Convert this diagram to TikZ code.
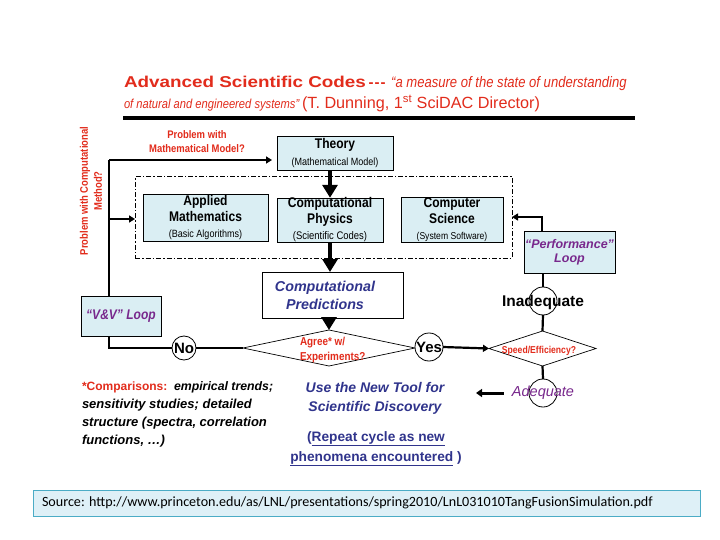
\documentclass[tikz,border=0pt]{standalone}
\usepackage{fontspec}
\setmainfont{Liberation Sans}
\newfontfamily\condf[FakeStretch=0.86]{Liberation Sans}
\newfontfamily\widef[FakeStretch=1.2]{Liberation Sans}
\newfontfamily\srcf{Carlito}
\usetikzlibrary{shapes.geometric,arrows.meta}
\definecolor{tred}{RGB}{226,44,28}
\definecolor{tblue}{RGB}{48,52,140}
\definecolor{tpurple}{RGB}{120,40,140}
\definecolor{lfill}{RGB}{218,238,243}
\definecolor{srcfill}{RGB}{222,240,247}
\definecolor{srcedge}{RGB}{75,172,198}
\newcommand{\myfs}[2]{\fontsize{#1}{#2}\selectfont}
\begin{document}
\begin{tikzpicture}[x=1pt,y=-1pt,
  every node/.style={inner sep=0pt,outer sep=0pt},
  lbox/.style={fill=lfill,draw=black,line width=0.5pt},
  conn/.style={line width=2.2pt},
  sarrow/.style={line width=2.2pt,-{Triangle[length=6pt,width=7pt]}},
  barrow/.style={line width=4pt,-{Triangle[length=13pt,width=15pt]}},
  ring/.style={circle,draw=black,line width=0.8pt,fill=white,minimum size=#1},
  boxtext/.style={align=center,font=\condf\bfseries\myfs{14}{16}},
  redlab/.style={text=tred,font=\condf\bfseries\myfs{11}{14}},
]
\useasboundingbox (0,0) rectangle (720,540);
\fill[white] (0,0) rectangle (720,540);

% title
\node[anchor=base west,text=tred] (title1) at (124,88)
  {{\widef\bfseries\myfs{15.7}{20}Advanced Scientific Codes}\ {\bfseries\myfs{15}{16}-\kern1pt-\kern1pt-}\ \ {\condf\itshape\myfs{15.2}{16}“a measure of the state of understanding}};
\node[anchor=base west,text=tred] (title2) at (124,109)
  {{\condf\itshape\myfs{13}{16}of natural and engineered systems”} {\myfs{16.2}{18}(T. Dunning, 1\textsuperscript{st} SciDAC Director)}};
\draw[line width=3.5pt] (123,118) -- (635,118);

% framed group
\node[draw,line width=1pt,dash pattern=on 5pt off 2pt on 1.5pt off 2pt,minimum width=377pt,minimum height=81pt] (frame) at (323.5,217.5) {};

\node[lbox,boxtext,minimum width=116pt,minimum height=34pt] (theory) at (335,153.5)
  {Theory\\[1pt]{\mdseries\myfs{10.5}{12}(Mathematical Model)}};
\node[lbox,boxtext,minimum width=125pt,minimum height=47pt] (applied) at (205.5,217.5)
  {Applied\\Mathematics\\{\mdseries\myfs{10.5}{12}(Basic Algorithms)}};
\node[lbox,boxtext,minimum width=106pt,minimum height=44pt] (physics) at (330,220)
  {Computational\\Physics\\{\mdseries\myfs{11}{12}(Scientific Codes)}};
\node[lbox,boxtext,minimum width=102pt,minimum height=45pt] (cs) at (452,219.5)
  {Computer\\Science\\{\mdseries\myfs{10}{12}(System Software)}};

\node[draw=black,line width=0.8pt,fill=white,minimum width=141pt,minimum height=46pt] (pred) at (332.5,295) {};
\node[align=center,text=tblue,font=\bfseries\itshape\myfs{14.3}{18}] (predt) at (325,295) {Computational\\Predictions};

\node[lbox,minimum width=80pt,minimum height=40pt,text=tpurple,font=\condf\bfseries\itshape\myfs{14}{16}] (vv) at (121,316) {“V\&V” Loop};
\node[lbox,minimum width=91pt,minimum height=42pt,align=center,text=tpurple,font=\bfseries\itshape\myfs{12.5}{14}] (perf) at (569.5,252) {“Performance”\\Loop};

\node[diamond,draw=black,line width=0.7pt,fill=white,minimum width=172pt,minimum height=36pt] (agree) at (329,348) {};
\node[anchor=north west,align=left,text=tred,font=\condf\bfseries\myfs{11.5}{15}] (agreet) at (300,337) {Agree* w/\\Experiments?};

\node[diamond,draw=black,line width=0.7pt,fill=white,minimum width=107pt,minimum height=35pt] (speed) at (542.5,348.5) {};
\node[text=tred,font=\condf\bfseries\myfs{10}{12}] (speedt) at (539,351) {Speed/Efficiency?};

\node[ring=24pt,font=\bfseries\myfs{15}{16}] (no) at (184,348) {No};
\node[ring=28pt,font=\bfseries\myfs{15}{16}] (yes) at (429,347) {Yes};
\node[ring=28pt] (inad) at (543,301) {};
\node[font=\bfseries\myfs{15.5}{16}] (inadt) at (543,302) {Inadequate};
\node[ring=28pt] (adeq) at (543,393) {};
\node[text=tpurple,font=\itshape\myfs{14.5}{16}] (adeqt) at (543,393) {Adequate};

% connectors
\coordinate (c1) at (109,160);
\coordinate (c2) at (109,219);
\coordinate (c3) at (542,217);
\coordinate (aL) at (476,393);
\draw[barrow] (physics.north |- theory.south) -- (physics.north);
\draw[barrow] (physics.south) -- (physics.south |- pred.north);
\draw[barrow] (agree.north |- pred.south) -- (agree.north);
\draw[conn] (vv.north -| c1) -- (c1);
\draw[sarrow,shorten >=5pt] (c1) -- (c1 -| theory.west);
\draw[sarrow] (c2) -- (c2 -| frame.west);
\draw[conn] (vv.south -| c1) |- (no.west);
\draw[conn] (no.east) -- (agree.west);
\draw[sarrow] (yes.east) -- (speed.west);
\draw[conn] (speed.north) -- (inad.south);
\draw[conn] (inad.north) -- (inad.north |- perf.south);
\draw[sarrow] (c3 |- perf.north) -- (c3) -- (c3 -| frame.east);
\draw[conn] (speed.south) -- (adeq.north);
\draw[line width=3pt,-{Triangle[length=6pt,width=8pt]}] ([xshift=-8pt]adeqt.west) -- (aL);

% labels
\node[redlab,align=center] (pmm) at (197,142) {Problem with\\Mathematical Model?};
\node[redlab,align=center,rotate=90,font=\condf\bfseries\myfs{11}{14}] (pcm) at (91,191) {Problem with Computational\\Method?};

\node[anchor=north west,align=left,font=\bfseries\myfs{13}{17.7}] (cmp) at (82,382)
  {{\color{tred}\myfs{12}{17.7}*Comparisons:\ \ }{\myfs{12.3}{17.7}\textit{empirical trends;}}\\\textit{sensitivity studies; detailed}\\\textit{structure (spectra, correlation}\\\textit{functions, \ldots)}};
\node[align=center,text=tblue,font=\bfseries\itshape\myfs{14}{19}] (tool) at (375,398.5) {Use the New Tool for\\Scientific Discovery};
\node[align=center,text=tblue,font=\bfseries\myfs{13.7}{20}] (rep) at (376,448.5) {(\underline{Repeat cycle as new}\\\underline{phenomena encountered} )};

% source
\node[draw=srcedge,fill=srcfill,line width=0.8pt,minimum width=667pt,minimum height=26pt] (src) at (366.5,503) {};
\node[anchor=west,font=\srcf\myfs{14.1}{16}] (srct) at ([xshift=9pt]src.west) {Source: http://www.princeton.edu/as/LNL/presentations/spring2010/LnL031010TangFusionSimulation.pdf};
\end{tikzpicture}
\end{document}
